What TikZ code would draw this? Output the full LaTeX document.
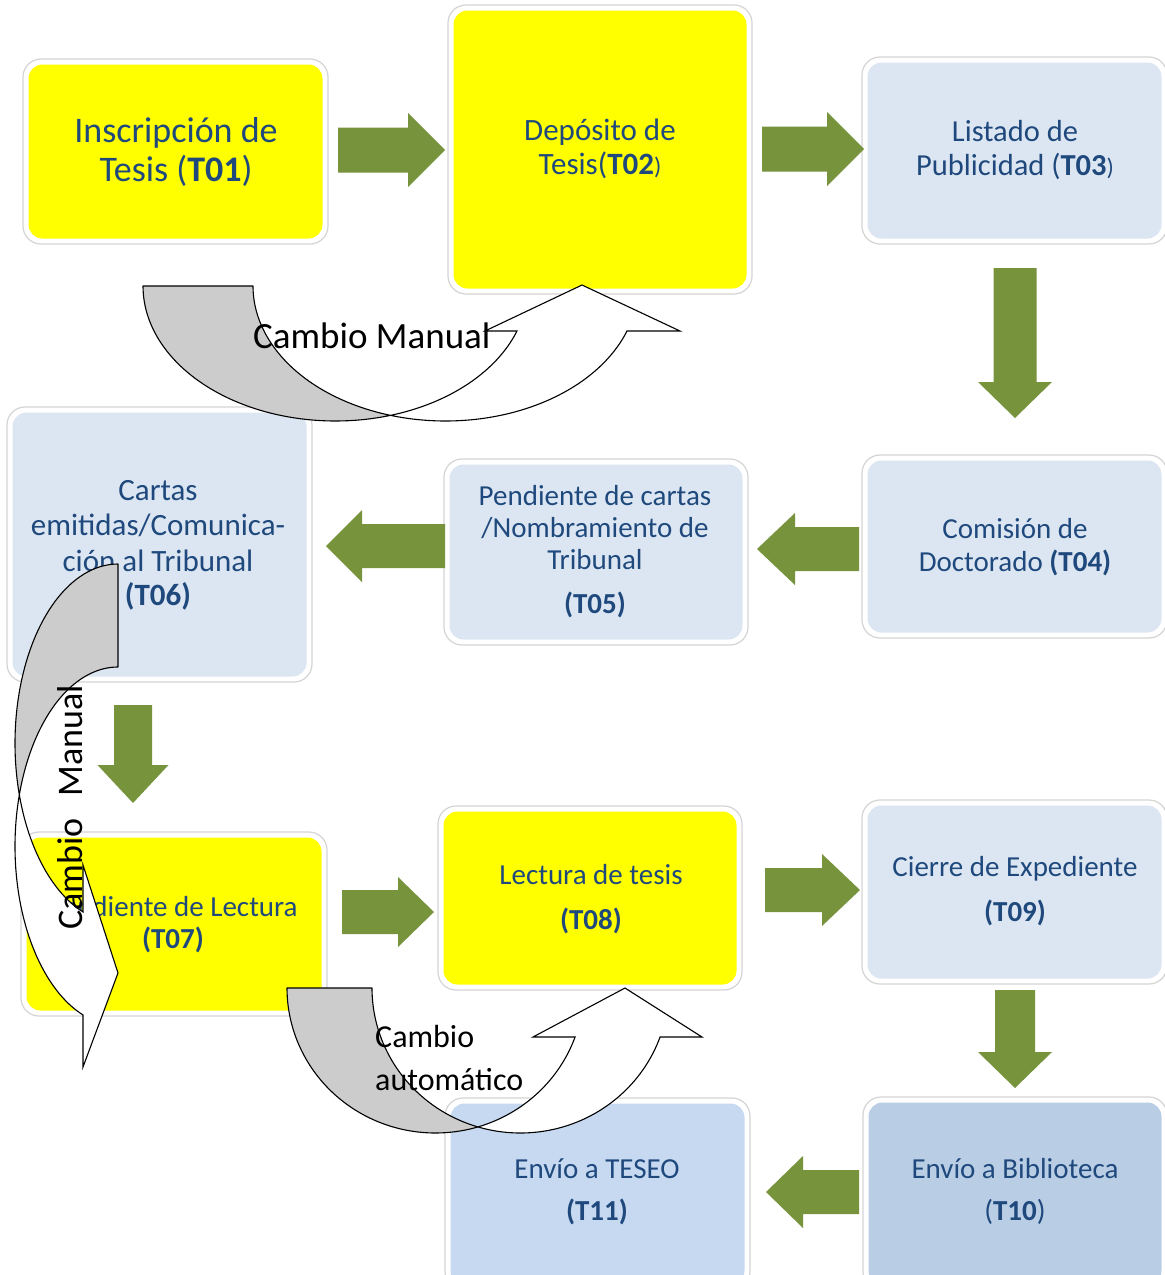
\documentclass[tikz,border=0pt]{standalone}
\usepackage{fontspec}
\setmainfont{Carlito}
\definecolor{textblue}{HTML}{1F497D}
\definecolor{blueA}{HTML}{DCE6F2}
\definecolor{blueB}{HTML}{C6D9F1}
\definecolor{blueC}{HTML}{B9CDE5}
\definecolor{ybox}{HTML}{FFFF00}
\definecolor{arrowgreen}{HTML}{77933C}
\definecolor{framegray}{HTML}{D4D4D4}
\definecolor{backgray}{HTML}{CCCCCC}
\newcommand\tbox[6]{%
  \node[frame, minimum width={#4-#2}, minimum height={#5-#3}] (#1f) at ({(#2+#4)/2},{(#3+#5)/2}) {};
  \node[inbox, fill=#6, minimum width={#4-#2-11}, minimum height={#5-#3-11}] (#1) at ({(#2+#4)/2},{(#3+#5)/2}) {};}
\newcommand\tl[5]{\node[txt, font=\fontsize{#4}{#4}\selectfont] (#1) at (#2,#3) {#5};}
\newcommand\harrow[6]{\fill[garrow] (#1,{#4-#5}) -- (#2,{#4-#5}) -- (#2,{#4-#6}) -- (#3,#4) -- (#2,{#4+#6}) -- (#2,{#4+#5}) -- (#1,{#4+#5}) -- cycle;}
\newcommand\varrow[6]{\fill[garrow] ({#4-#5},#1) -- ({#4-#5},#2) -- ({#4-#6},#2) -- (#4,#3) -- ({#4+#6},#2) -- ({#4+#5},#2) -- ({#4+#5},#1) -- cycle;}
\begin{document}
\begin{tikzpicture}[x=1pt,y=-1pt,
  frame/.style={draw=framegray, line width=1.2pt, fill=white, rounded corners=18pt, inner sep=0pt, outer sep=0pt},
  inbox/.style={draw=none, rounded corners=14pt, inner sep=0pt, outer sep=0pt},
  txt/.style={text=textblue, inner sep=0pt, anchor=base},
  garrow/.style={fill=arrowgreen, draw=none},
  back/.style={fill=backgray, draw=black, line width=1.1pt, line join=round},
  front/.style={fill=white, draw=black, line width=1.1pt, line join=miter},
  lbl/.style={text=black, inner sep=0pt}]
\useasboundingbox (0,0) rectangle (1165,1275);
\fill[white] (0,0) rectangle (1165,1275);
% boxes
\tbox{T01}{23}{59}{328}{244}{ybox}
\tbox{T02}{448}{5}{752}{294}{ybox}
\tbox{T03}{862}{57}{1167}{244}{blueA}
\tbox{T04}{862}{455}{1167}{638}{blueA}
\tbox{T05}{444}{459}{748}{645}{blueA}
\tbox{T06}{7}{407}{312}{682}{blueA}
\tbox{T07}{21}{832}{327}{1016}{ybox}
\tbox{T08}{438}{806}{742}{990}{ybox}
\tbox{T09}{862}{800}{1167}{984}{blueA}
\tbox{T10}{863}{1097}{1167}{1290}{blueC}
\tbox{T11}{445}{1098}{750}{1290}{blueB}
% texts
\tl{t01a}{176}{142}{36}{Inscripción de}
\tl{t01b}{176}{181}{36}{Tesis (\textbf{T01})}
\tl{t02a}{600}{140}{31}{Depósito de}
\tl{t02b}{600}{174}{31}{Tesis(\textbf{T02}{\fontsize{24}{24}\selectfont)}}
\tl{t03a}{1015}{141}{30.5}{Listado de}
\tl{t03b}{1015}{175}{30.5}{Publicidad (\textbf{T03}{\fontsize{24}{24}\selectfont)}}
\tl{t04a}{1015}{538}{29}{Comisión de}
\tl{t04b}{1015}{571}{29}{Doctorado \textbf{(T04)}}
\tl{t05a}{595}{505}{29}{Pendiente de cartas}
\tl{t05b}{595}{537}{29}{/Nombramiento de}
\tl{t05c}{595}{569}{29}{Tribunal}
\tl{t05d}{595}{613}{29}{\textbf{(T05)}}
\tl{t06a}{158}{500}{31}{Cartas}
\tl{t06b}{158}{535}{31}{emitidas/Comunica-}
\tl{t06c}{158}{571}{31}{ción al Tribunal}
\tl{t06d}{158}{605}{31}{\textbf{(T06)}}
\tl{t07a}{173}{916}{29}{Pendiente de Lectura}
\tl{t07b}{173}{948}{29}{\textbf{(T07)}}
\tl{t08a}{591}{884}{29}{Lectura de tesis}
\tl{t08b}{591}{929}{29}{\textbf{(T08)}}
\tl{t09a}{1015}{876}{29}{Cierre de Expediente}
\tl{t09b}{1015}{921}{29}{\textbf{(T09)}}
\tl{t10a}{1015}{1178}{29}{Envío a Biblioteca}
\tl{t10b}{1015}{1220}{29}{(\textbf{T10})}
\tl{t11a}{597}{1178}{29}{Envío a TESEO}
\tl{t11b}{597}{1220}{29}{\textbf{(T11)}}
% green block arrows
\harrow{338}{408}{445}{150}{22.5}{37}
\harrow{762}{827}{864}{149}{22.5}{37}
\varrow{268}{382}{418}{1015}{21.5}{37}
\harrow{859}{795}{757}{549}{22}{36}
\harrow{445}{362}{326}{546}{22}{36}
\varrow{705}{765}{803}{133}{19}{35.5}
\harrow{342}{398}{434}{912}{22}{35}
\harrow{765}{822}{860}{890}{22}{36}
\varrow{990}{1052}{1088}{1015}{20}{37}
\harrow{859}{803}{766}{1192}{22}{36}
% curved arrow top
\draw[back] plot[domain=180:73.4, samples=60] ({335.5+192.5*cos(\x)},{286+135*sin(\x)})
  -- plot[domain=106.6:180, samples=60] ({445.5+192.5*cos(\x)},{286+135*sin(\x)}) -- cycle;
\draw[front] plot[domain=73.4:19.47, samples=60] ({335.5+192.5*cos(\x)},{286+135*sin(\x)})
  -- (485,331) -- (582,285) -- (680,331)
  -- plot[domain=19.47:106.6, samples=80] ({445.5+192.5*cos(\x)},{286+135*sin(\x)}) -- cycle;
% curved arrow bottom
\draw[back] plot[domain=180:73.36, samples=60] ({435.4+148.4*cos(\x)},{988+145*sin(\x)})
  -- plot[domain=106.64:180, samples=60] ({520.4+148.4*cos(\x)},{988+145*sin(\x)}) -- cycle;
\draw[front] plot[domain=73.36:19.75, samples=60] ({435.4+148.4*cos(\x)},{988+145*sin(\x)})
  -- (533,1037) -- (625,988) -- (702,1037)
  -- plot[domain=19.75:106.64, samples=80] ({520.4+148.4*cos(\x)},{988+145*sin(\x)}) -- cycle;
% curved arrow left
\draw[back] plot[domain=180:73.3, samples=60] ({118-103*sin(\x)},{743.3+179.3*cos(\x)})
  -- plot[domain=106.7:180, samples=60] ({118-103*sin(\x)},{846.3+179.3*cos(\x)}) -- cycle;
\draw[front] plot[domain=73.3:19.87, samples=60] ({118-103*sin(\x)},{743.3+179.3*cos(\x)})
  -- (83,865) -- (118,973) -- (83,1067)
  -- plot[domain=19.87:106.7, samples=80] ({118-103*sin(\x)},{846.3+179.3*cos(\x)}) -- cycle;
% labels
\node[lbl, anchor=base west, font=\fontsize{37}{37}\selectfont] (lab1) at (253,348) {Cambio Manual};
\node[lbl, anchor=base, rotate=90, font=\fontsize{36}{36}\selectfont] (lab2) at (82,807.5) {Cambio\hspace{22pt}Manual};
\node[lbl, anchor=base west, font=\fontsize{32}{32}\selectfont] (lab3) at (375,1047) {Cambio};
\node[lbl, anchor=base west, font=\fontsize{32}{32}\selectfont] (lab4) at (375,1090) {automático};
\end{tikzpicture}
\end{document}
